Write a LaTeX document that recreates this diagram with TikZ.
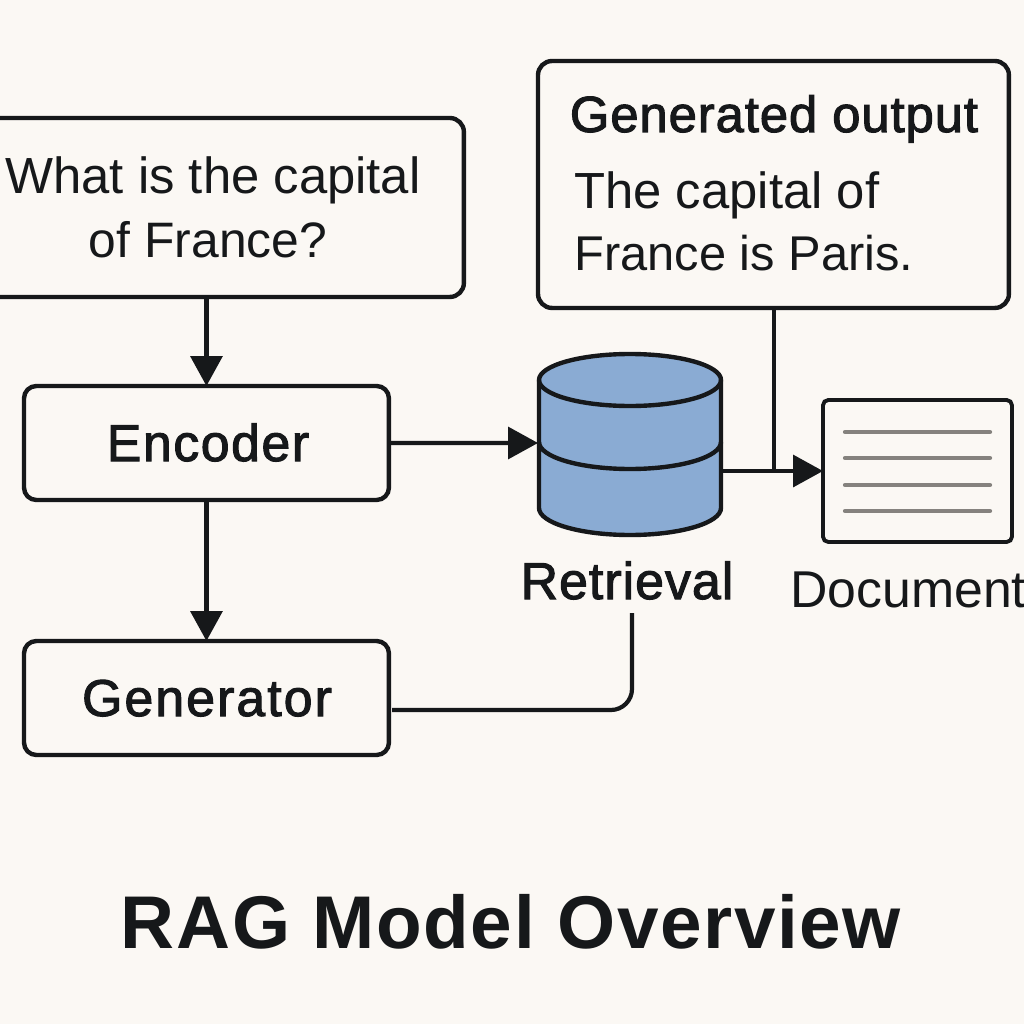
\documentclass[tikz,border=0pt]{standalone}
\usepackage{fontspec}
\setmainfont{Liberation Sans}
\usetikzlibrary{arrows.meta}
\definecolor{bgc}{HTML}{FBF8F4}
\definecolor{ink}{HTML}{16181A}
\definecolor{dbblue}{HTML}{8AABD3}
\definecolor{docline}{HTML}{85827E}
\newcommand{\pxfont}[1]{\fontsize{\dimexpr #1pt*5669/10000\relax}{\dimexpr #1pt*5669/10000\relax}\selectfont}
\newcommand{\medtext}[2]{\addfontfeature{LetterSpace=#1}\special{pdf:code 2 Tr 0.6 w}#2\special{pdf:code 0 Tr 0 w}}
\tikzset{
  x=0.02cm,y=-0.02cm,
  boxa/.style={draw=ink,line width=2.5pt,rounded corners=8pt,anchor=north west,inner sep=0pt,outer sep=0pt,fill=none},
  conn/.style={draw=ink,line width=2.4pt},
  arr/.style={conn,-{Triangle[length=17pt,width=18pt,fill=ink]}},
  lab/.style={text=ink,inner sep=0pt,anchor=base},
  docl/.style={draw=docline,line width=2.4pt,line cap=round},
}
\begin{document}
\begin{tikzpicture}
\useasboundingbox (0,0) rectangle (1024,1024);
\fill[bgc] (0,0) rectangle (1024,1024);
\begin{scope}
\clip (0,0) rectangle (1024,1024);
% boxes
\node[boxa,minimum width=9.68cm,minimum height=3.58cm] (question) at (-20,118) {};
\node[boxa,minimum width=9.42cm,minimum height=4.94cm] (output) at (538,61) {};
\node[boxa,minimum width=7.3cm,minimum height=2.28cm,rounded corners=7pt] (encoder) at (24,386) {};
\node[boxa,minimum width=7.3cm,minimum height=2.28cm,rounded corners=7pt] (generator) at (24,641) {};
\node[boxa,line width=2.2pt,rounded corners=3pt,minimum width=3.78cm,minimum height=2.84cm] (doc) at (823,400) {};
% database
\path[fill=dbblue,draw=ink,line width=2.5pt] (539,380) -- (539,508) arc[start angle=180,end angle=0,x radius=91,y radius=27] -- (721,380) arc[start angle=0,end angle=-180,x radius=91,y radius=26] -- cycle;
\draw[ink,line width=2.5pt] (539,380) arc[start angle=180,end angle=0,x radius=91,y radius=26];
\draw[ink,line width=2.5pt] (539,442) arc[start angle=180,end angle=0,x radius=91,y radius=27];
\coordinate (dbw) at (538,443);
\coordinate (dbe) at (722,471);
% doc lines
\foreach \yy in {432,458,485,511}{\draw[docl] (845,\yy) -- (990,\yy);}
% connectors
\coordinate (junction) at (774,471);
\coordinate (retrend) at (632,613);
\coordinate (genout) at (392,710);
\coordinate (corner) at (632,710);
\draw[arr] (question.south -| encoder.north) -- (encoder.north);
\draw[arr] (encoder.south) -- (generator.north);
\draw[arr] (encoder.east) -- (dbw);
\draw[arr] (dbe) -- (doc.west |- dbe);
\draw[conn] (output.south -| junction) -- (junction);
\draw[conn,rounded corners=12pt] (genout) -- (corner) -- (retrend);
% text
\node[lab] (qa) at (213,193) {\pxfont{51}What is the capital};
\node[lab] (qb) at (208,257) {\pxfont{50}of France?};
\node[lab] (oa) at (774,132) {\pxfont{51}\medtext{1.8}{Generated output}};
\node[lab,anchor=base west] (ob) at (574,208) {\pxfont{51}The capital of};
\node[lab,anchor=base west] (oc) at (574,270) {\pxfont{49}France is Paris.};
\node[lab] (enc) at (208,461) {\pxfont{52}\medtext{3}{Encoder}};
\node[lab] (gen) at (207,716) {\pxfont{52}\medtext{4}{Generator}};
\node[lab] (ret) at (627,599) {\pxfont{52}\medtext{2}{Retrieval}};
\node[lab,anchor=base west] (docl) at (790,607) {\pxfont{52}Document};
\node[lab,font=\bfseries] (title) at (511,948) {\pxfont{75}\addfontfeature{LetterSpace=2.2}RAG Model Overview};
\end{scope}
\end{tikzpicture}
\end{document}
